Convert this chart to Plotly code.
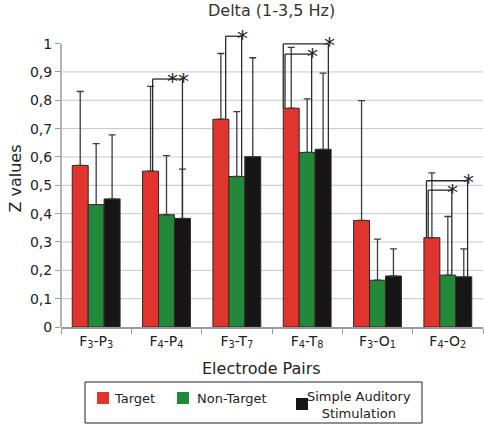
import plotly.graph_objects as go

categories = ["F<sub>3</sub>-P<sub>3</sub>", "F<sub>4</sub>-P<sub>4</sub>", "F<sub>3</sub>-T<sub>7</sub>",
              "F<sub>4</sub>-T<sub>8</sub>", "F<sub>3</sub>-O<sub>1</sub>", "F<sub>4</sub>-O<sub>2</sub>"]
target = [0.57, 0.55, 0.733, 0.772, 0.376, 0.315]
target_top = [0.831, 0.849, 0.965, 0.987, 0.799, 0.544]
nontarget = [0.432, 0.396, 0.531, 0.616, 0.165, 0.183]
nontarget_top = [0.647, 0.605, 0.76, 0.805, 0.31, 0.39]
sas = [0.452, 0.383, 0.601, 0.627, 0.18, 0.177]
sas_top = [0.678, 0.557, 0.95, 0.896, 0.276, 0.276]
ytick_vals = [0, 0.1, 0.2, 0.3, 0.4, 0.5, 0.6, 0.7, 0.8, 0.9, 1.0]
ytick_text = ["0", "0,1", "0,2", "0,3", "0,4", "0,5", "0,6", "0,7", "0,8", "0,9", "1"]
series_names = ["Target", "Non-Target", "Simple Auditory<br>Stimulation"]

# significance brackets: (group index, from series, to series, level, stars)
brackets = [
    (1, 0, 2, 0.875, "**"),
    (2, 0, 1, 1.026, "*"),
    (3, 0, 2, 0.999, "*"),
    (3, 0, 1, 0.963, "*"),
    (5, 0, 2, 0.516, "*"),
    (5, 0, 1, 0.483, "*"),
]
# style: horizontal nudges of bracket ends, in bar widths (left end, right end)
bracket_nudge = [(0.13, 0.0), (0.3, 0.3), (-0.5, 0.33), (-0.39, 0.28), (-0.34, 0.24), (-0.23, 0.25)]

colors = ["#e0352f", "#22893b", "#161616"]
values = [target, nontarget, sas]
tops = [target_top, nontarget_top, sas_top]

FONT = "DejaVu Sans"
TXT = "#222"
fig = go.Figure()
for name, vals, tp, col in zip(series_names, values, tops, colors):
    fig.add_trace(go.Bar(
        x=categories, y=vals, name=name, showlegend=False,
        marker=dict(color=col, line=dict(color="#3a2424", width=1)),
        error_y=dict(type="data", symmetric=False,
                     array=[t - v for t, v in zip(tp, vals)],
                     arrayminus=[0] * len(vals),
                     color="#3c3c3c", thickness=1.3, width=3.5),
    ))

bargap = 0.32
bw = (1 - bargap) / 3
offs = [-bw, 0, bw]
bline = dict(color="#2a2a2a", width=1.3)
for (g, a, b, lvl, stars), (na, nb) in zip(brackets, bracket_nudge):
    xa = g + offs[a] + na * bw
    xb = g + offs[b] + nb * bw
    ya = values[a][g]
    yb = values[b][g]
    fig.add_shape(type="line", xref="x", yref="y", x0=xa, x1=xa, y0=ya, y1=lvl, line=bline)
    fig.add_shape(type="line", xref="x", yref="y", x0=xa, x1=xb, y0=lvl, y1=lvl, line=bline)
    fig.add_shape(type="line", xref="x", yref="y", x0=xb, x1=xb, y0=lvl, y1=yb, line=bline)
    fig.add_annotation(x=xb, y=lvl, xref="x", yref="y", text=stars, showarrow=False,
                       yanchor="middle", yshift=-2, xshift=(-4 if len(stars) > 1 else 1),
                       font=dict(family=FONT, size=22, color="#222"))

# gridlines (none at 1) and y axis line up to 1
for v in ytick_vals[1:-1]:
    fig.add_shape(type="line", xref="paper", yref="y", x0=0, x1=1, y0=v, y1=v,
                  line=dict(color="#c6c6c6", width=1), layer="below")
fig.add_shape(type="line", xref="paper", yref="y", x0=0, x1=0, y0=0, y1=1,
              line=dict(color="#9a9a9a", width=1.5))

# pixel -> paper helpers
def px_x(p):
    return (p - 61) / 422.0

def px_y(p):
    return (327 - p) / 297.0

# title and x axis title
fig.add_annotation(xref="paper", yref="paper", x=px_x(271), y=px_y(10), text="Delta (1-3,5 Hz)",
                   showarrow=False, xanchor="center", yanchor="middle",
                   font=dict(family=FONT, size=16, color="#333"))
fig.add_annotation(xref="paper", yref="paper", x=px_x(261), y=px_y(368), text="Electrode Pairs",
                   showarrow=False, xanchor="center", yanchor="middle",
                   font=dict(family=FONT, size=16, color=TXT))

# legend box (drawn manually)
fig.add_shape(type="rect", xref="paper", yref="paper", x0=px_x(85), x1=px_x(422),
              y0=px_y(382), y1=px_y(423), line=dict(color="#222", width=1), fillcolor="white")
legend_sq = [(97, 392), (177, 392), (296, 398)]
legend_txt = [(112, 398, "left"), (195, 398, "left"), (359, 405, "center")]
for (sx, sy), (tx, ty, al), col, name in zip(legend_sq, legend_txt, colors, series_names):
    fig.add_shape(type="rect", xref="paper", yref="paper", x0=px_x(sx), x1=px_x(sx + 12),
                  y0=px_y(sy), y1=px_y(sy + 12), line=dict(color=col, width=0), fillcolor=col)
    fig.add_annotation(xref="paper", yref="paper", x=px_x(tx), y=px_y(ty), text=name,
                       showarrow=False, xanchor=al, yanchor="middle", align="center",
                       font=dict(family=FONT, size=13, color=TXT))

fig.update_layout(
    width=484, height=424,
    margin=dict(l=61, r=1, t=30, b=97, autoexpand=False),
    paper_bgcolor="white", plot_bgcolor="white",
    barmode="group", bargap=bargap, bargroupgap=0,
    font=dict(family=FONT, color=TXT),
    showlegend=False,
)
fig.update_xaxes(
    type="category", categoryorder="array", categoryarray=categories,
    showline=True, linecolor="#9a9a9a", linewidth=1.5,
    ticks="outside", tickson="boundaries", ticklen=5, tickcolor="#9a9a9a",
    tickfont=dict(family=FONT, size=14, color=TXT),
    showgrid=False,
)
fig.update_yaxes(
    range=[0, 1.048], tickvals=ytick_vals, ticktext=ytick_text,
    showline=False, showgrid=False,
    ticks="outside", ticklen=5, tickcolor="#9a9a9a",
    tickfont=dict(family=FONT, size=14, color=TXT),
    title=dict(text="Z values", font=dict(family=FONT, size=16, color=TXT), standoff=4),
    zeroline=False,
)

fig.write_html("out.html", config={"displayModeBar": False},
               post_script="document.body.style.margin='0px';")
